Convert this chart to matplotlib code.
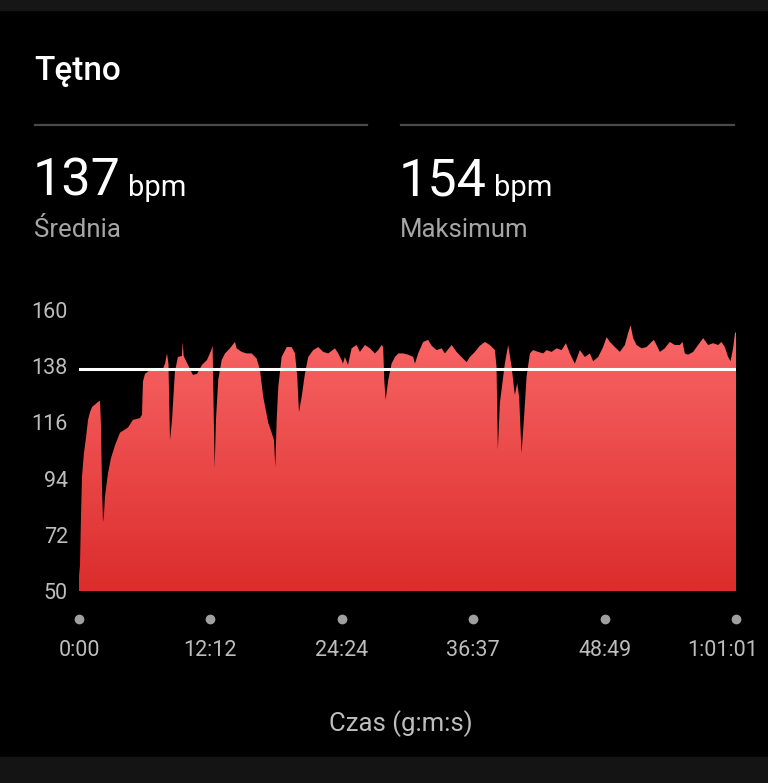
import matplotlib
matplotlib.use('Agg')
import matplotlib.pyplot as plt
import matplotlib.transforms as mtransforms
from matplotlib.colors import LinearSegmentedColormap
from matplotlib.patches import Rectangle
import numpy as np

# heart rate samples: time in minutes, bpm
minutes = [0.00, 0.09, 0.19, 0.28, 0.46, 0.65, 0.84, 1.02, 1.21, 1.49, 1.76, 1.95,
           2.04, 2.14, 2.23, 2.32, 2.41, 2.69, 2.97, 3.34, 3.81, 4.18, 4.55, 5.01,
           5.66, 5.85, 5.94, 6.13, 6.59, 7.24, 7.71, 7.99, 8.17, 8.31, 8.45, 8.64,
           8.91, 9.19, 9.56, 9.63, 9.72, 10.12, 10.58, 10.96, 11.42, 11.88, 12.26,
           12.41, 12.47, 12.60, 12.72, 12.93, 13.25, 13.56, 14.02, 14.48, 14.64,
           15.11, 15.57, 16.04, 16.50, 16.81, 17.11, 17.58, 17.89, 18.11, 18.23,
           18.36, 18.51, 18.82, 19.29, 19.75, 20.06, 20.27, 20.43, 20.68, 20.98,
           21.29, 21.75, 22.22, 22.68, 23.15, 23.77, 24.08, 24.39, 24.51, 24.70,
           24.98, 25.32, 25.78, 26.09, 26.56, 27.02, 27.48, 27.79, 28.11, 28.25,
           28.35, 28.48, 28.72, 29.03, 29.34, 29.65, 30.11, 30.58, 31.04, 31.20,
           31.50, 31.97, 32.43, 32.75, 33.21, 33.68, 33.98, 34.61, 35.07, 35.53,
           36.00, 36.30, 36.77, 37.23, 37.70, 38.16, 38.63, 38.78, 38.90, 39.09,
           39.55, 39.86, 40.18, 40.48, 40.70, 40.88, 41.10, 41.32, 41.57, 41.88,
           42.18, 42.65, 43.11, 43.43, 43.89, 44.36, 44.82, 45.22, 45.59, 46.05,
           46.52, 46.98, 47.45, 47.75, 48.22, 48.68, 49.00, 49.31, 49.77, 50.23,
           50.70, 51.00, 51.23, 51.47, 51.78, 52.25, 52.71, 53.18, 53.39, 53.64,
           53.95, 54.41, 54.87, 55.34, 55.80, 56.05, 56.27, 56.57, 57.04, 57.50,
           57.97, 58.43, 58.90, 59.36, 59.67, 59.98, 60.29, 60.51, 60.75, 60.94,
           61.02]
bpm = [56, 60, 80, 95, 104, 110, 117, 120, 122, 123, 124, 124.5,
       115, 90, 77, 80, 87, 96, 102, 107, 112, 113, 114, 117,
       117.7, 119, 132, 135, 136.5, 136.5, 136, 139, 143, 139, 109, 117,
       136, 141.6, 142, 147.5, 142, 138.5, 134.6, 135, 138.5, 140.4, 144,
       146, 130, 98, 117, 132.6, 140.4, 143, 145, 147.5, 145,
       143.6, 143, 143, 141, 136.5, 126, 115.8, 112, 109, 98.6,
       117, 130, 141.6, 145.5, 145.5, 143, 134, 120, 126, 135,
       141.6, 144.3, 145.5, 143.6, 143, 145, 143, 140.4, 139, 141.6,
       138.5, 145, 146.3, 143.6, 146.3, 145, 143, 144.3, 146.3, 145.5,
       132.6, 124.8, 132.6, 139, 141.6, 143, 143, 142.5, 141.6, 139,
       143, 147.5, 148.3, 146, 144.3, 145, 143, 146.3, 143.6, 141.6,
       139.6, 141.6, 143.6, 146, 147.5, 146.3, 144.3, 137.7, 105.2, 123.6,
       139, 146.3, 137.7, 126.7, 131.4, 126, 104, 117, 134, 143,
       144.3, 143.6, 143, 144.3, 143.6, 145, 144.3, 147, 143, 139,
       144.3, 141.6, 143, 140, 141.6, 145.5, 149.4, 147.5, 145.5, 143.6,
       146.3, 151, 154, 149, 146.3, 145, 145.5, 147.5, 148.3, 146.3,
       143.6, 145, 147.5, 146.3, 146.3, 147.5, 143, 142.5, 143.6, 146.3,
       149, 146.3, 147, 146.3, 147.5, 145.5, 141.6, 140, 145, 151.4,
       151]

avg_bpm = 137
max_bpm = 154
y_ticks = [50, 72, 94, 116, 138, 160]
x_tick_minutes = [0, 12.2, 24.4, 36.617, 48.817, 61.017]
x_tick_labels = ['0:00', '12:12', '24:24', '36:37', '48:49', '1:01:01']

W, H = 768, 783
plt.rcParams['font.family'] = ['Roboto', 'DejaVu Sans']

fig = plt.figure(figsize=(W / 100, H / 100), dpi=100, facecolor='black')


def fx(px):
    return px / W


def fy(py):
    return 1 - py / H


# top and bottom bars of the phone screen
fig.patches.append(Rectangle((0, fy(10)), 1, 1 - fy(10), transform=fig.transFigure,
                             color='#161616', zorder=0))
fig.patches.append(Rectangle((0, 0), 1, fy(757), transform=fig.transFigure,
                             color='#141414', zorder=0))

# header
fig.text(fx(34), fy(80), 'Tętno', color='white', fontsize=24, fontweight='medium', va='baseline')
fig.add_artist(plt.Line2D([fx(35), fx(367)], [fy(125), fy(125)], color='#4a4a4a', lw=1.6))
fig.add_artist(plt.Line2D([fx(401), fx(734)], [fy(125), fy(125)], color='#4a4a4a', lw=1.6))

fig.text(fx(33), fy(196), str(avg_bpm), color='white', fontsize=37.5, va='baseline')
fig.text(fx(128), fy(196), 'bpm', color='white', fontsize=21, va='baseline')
fig.text(fx(34), fy(237), 'Średnia', color='#a6a6a6', fontsize=18.5, va='baseline')

fig.text(fx(399), fy(196), str(max_bpm), color='white', fontsize=37.5, va='baseline')
fig.text(fx(494), fy(196), 'bpm', color='white', fontsize=21, va='baseline')
fig.text(fx(400), fy(237), 'Maksimum', color='#a6a6a6', fontsize=18.5, va='baseline')

# chart
ax = fig.add_axes([fx(79), fy(591), fx(736) - fx(79), fy(310) - fy(591)])
ax.set_facecolor('black')
for s in ax.spines.values():
    s.set_visible(False)

t_end = minutes[-1]
ax.set_xlim(0, t_end)
ax.set_ylim(50, 160)

poly = ax.fill_between(minutes, bpm, 50, facecolor='none', edgecolor='none')
cmap = LinearSegmentedColormap.from_list('hr', ['#dc2c2c', '#fb6a6a'])
grad = np.linspace(0, 1, 256).reshape(-1, 1)
im = ax.imshow(grad, extent=[0, t_end, 50, 160], origin='lower', aspect='auto',
               cmap=cmap, zorder=1)
im.set_clip_path(poly.get_paths()[0], transform=ax.transData)

ax.axhline(avg_bpm, color='white', lw=2.2, zorder=3)

ax.set_yticks(y_ticks)
ax.set_yticklabels([str(v) for v in y_ticks])
ax.tick_params(axis='y', length=0, pad=8, labelcolor='#bdbdbd', labelsize=15.5)
ax.set_xticks([])

trans = mtransforms.blended_transform_factory(ax.transData, ax.transAxes)
ax.plot(x_tick_minutes, [-0.1] * len(x_tick_minutes), 'o', color='#a0a0a0', ms=6,
        transform=trans, clip_on=False)
for i, (t, lab) in enumerate(zip(x_tick_minutes, x_tick_labels)):
    off = -13 / 657 * t_end if i == len(x_tick_labels) - 1 else 0
    ax.text(t + off, -0.21, lab, transform=trans, ha='center', va='center',
            color='#bdbdbd', fontsize=15.5)

fig.text(fx(401), fy(724), 'Czas (g:m:s)', color='#bdbdbd', fontsize=18.5, ha='center', va='center')

fig.savefig('out.png', dpi=100, facecolor=fig.get_facecolor())
